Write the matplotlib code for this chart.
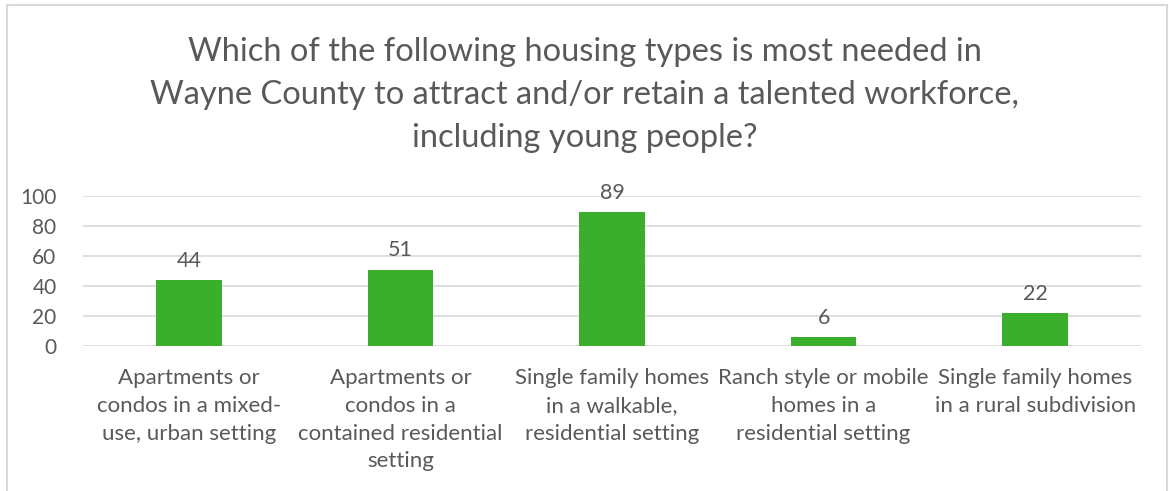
import matplotlib
matplotlib.use("Agg")
import matplotlib.pyplot as plt
from matplotlib.patches import Rectangle

categories = [
    "Apartments or\ncondos in a mixed-\nuse, urban setting",
    "Apartments or\ncondos in a\ncontained residential\nsetting",
    "Single family homes\nin a walkable,\nresidential setting",
    "Ranch style or mobile\nhomes in a\nresidential setting",
    "Single family homes\nin a rural subdivision",
]
values = [44, 51, 89, 6, 22]
yticks = [0, 20, 40, 60, 80, 100]
title = ("Which of the following housing types is most needed in\n"
         "Wayne County to attract and/or retain a talented workforce,\n"
         "including young people?")

plt.rcParams['font.family'] = ['Lato', 'DejaVu Sans']
TXT = '#595959'
GREEN = '#3CAE2E'

fig = plt.figure(figsize=(11.69, 4.91), dpi=100)
fig.patches.append(Rectangle((7/1169, -0.1), (1167-7)/1169, 1.1 - 5/491,
                             transform=fig.transFigure, fill=False,
                             edgecolor='#D9D9D9', linewidth=1.5))
ax = fig.add_axes([83/1169, 1 - 346/491, (1141-83)/1169, (346-196)/491])
x = list(range(len(values)))
bars = ax.bar(x, values, width=0.31, color=GREEN, zorder=3)
for xi, v in zip(x, values):
    ax.text(xi, v + 6, str(v), ha='center', va='bottom', fontsize=15.5, color=TXT)
ax.set_xlim(-0.5, len(values) - 0.5)
ax.set_ylim(0, 100)
ax.set_yticks(yticks)
ax.set_yticklabels([str(t) for t in yticks], fontsize=15, color=TXT)
ax.set_xticks(x)
ax.set_xticklabels(categories, fontsize=16, color=TXT, linespacing=1.48, va='top')
ax.tick_params(axis='both', length=0)
ax.tick_params(axis='y', pad=19)
ax.tick_params(axis='x', pad=16)
ax.grid(axis='y', color='#D9D9D9', linewidth=1.2, zorder=0)
for s in ax.spines.values():
    s.set_visible(False)
fig.text(0.5, 1 - 95/491, title, ha='center', va='center', fontsize=23.5,
         color=TXT, linespacing=1.55)
fig.savefig('out.png', dpi=100)
